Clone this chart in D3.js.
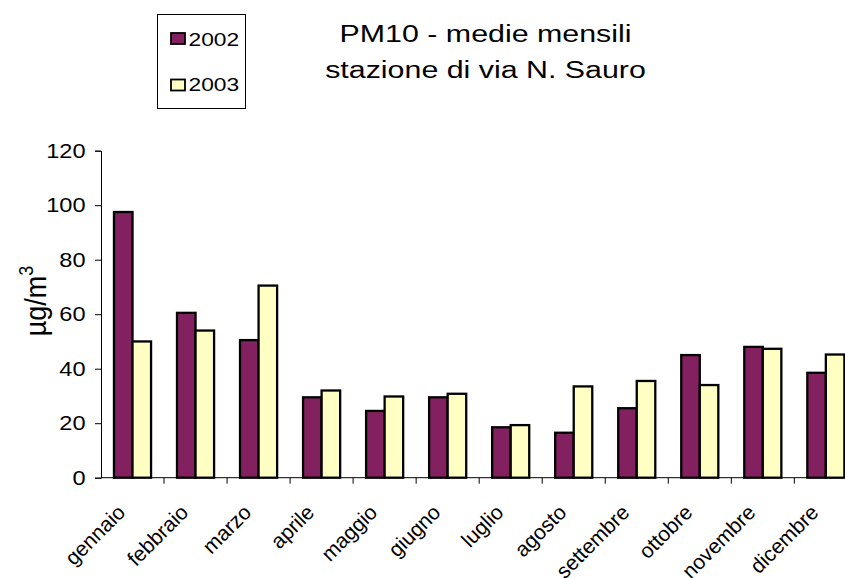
<!DOCTYPE html>
<html>
<head>
<meta charset="utf-8">
<script src="https://cdn.jsdelivr.net/npm/d3@7"></script>
<style>
  html, body { margin: 0; padding: 0; background: #fff; }
  svg { display: block; font-family: "Liberation Sans", Arial, sans-serif; }
</style>
</head>
<body>
<svg id="chart" width="845" height="578"></svg>
<script>
const months = ["gennaio","febbraio","marzo","aprile","maggio","giugno","luglio","agosto","settembre","ottobre","novembre","dicembre"];
const years = ["2002","2003"];
const values2002 = [97.5, 60.5, 50.5, 29.5, 24.5, 29.5, 18.5, 16.5, 25.5, 45, 48, 38.5];
const values2003 = [50, 54, 70.5, 32, 29.8, 30.8, 19.3, 33.5, 35.5, 34, 47.3, 45.2];
const yTicks = [0, 20, 40, 60, 80, 100, 120];
const titleLines = ["PM10 - medie mensili", "stazione di via N. Sauro"];
const colors = { "2002": "#822060", "2003": "#FFFFC4" };

const svg = d3.select("#chart");
const x0 = 101, y0 = 477.7, yTop = 150.7, step = 63.03;

const x = d3.scaleBand().domain(months).range([x0, x0 + step * months.length]).padding(0);
const xi = d3.scaleBand().domain(years).range([0, x.bandwidth()]).paddingInner(0).paddingOuter(0.70);
const y = d3.scaleLinear().domain([0, 120]).range([y0, yTop]);

const series = years.map((yr, k) => ({ year: yr, vals: k === 0 ? values2002 : values2003 }));

// bars
const g = svg.append("g");
series.forEach(s => {
  g.selectAll(null).data(months).enter().append("rect")
    .attr("x", m => x(m) + xi(s.year))
    .attr("width", xi.bandwidth())
    .attr("y", (m, i) => y(s.vals[i]))
    .attr("height", (m, i) => y0 - y(s.vals[i]))
    .attr("fill", colors[s.year])
    .attr("stroke", "#000")
    .attr("stroke-width", 2.3);
});

// y axis
const yAxis = d3.axisLeft(y).tickValues(yTicks).tickSize(6).tickPadding(10);
const ya = svg.append("g").attr("transform", `translate(${x0},0)`).call(yAxis);
ya.select(".domain").attr("stroke", "#000").attr("stroke-width", 1);
ya.selectAll(".tick line").attr("stroke", "#000");
ya.selectAll(".tick text")
  .attr("font-size", 20).attr("fill", "#000")
  .attr("font-family", "Liberation Sans, Arial, sans-serif")
  .attr("x", -15.5 / 1.18)
  .attr("transform", "scale(1.18,1)");

// x axis line and ticks at band edges
svg.append("line").attr("x1", x0).attr("x2", x0 + step * months.length)
  .attr("y1", y0).attr("y2", y0).attr("stroke", "#000").attr("stroke-width", 1);
const edges = months.map(m => x(m)).concat([x(months[months.length - 1]) + x.bandwidth()]);
svg.selectAll(null).data(edges.slice(1)).enter().append("line")
  .attr("x1", d => d).attr("x2", d => d)
  .attr("y1", y0).attr("y2", y0 + 6).attr("stroke", "#000");

// x labels
svg.selectAll(null).data(months).enter().append("text")
  .attr("transform", m => `translate(${x(m) + x.bandwidth() / 2 - 6},${y0 + 36}) rotate(-45)`)
  .attr("text-anchor", "end")
  .attr("font-size", 21)
  .attr("fill", "#000")
  .text(m => m);

// y label
const yl = svg.append("text")
  .attr("transform", "translate(46,301) scale(1.1,1) rotate(-90)")
  .attr("text-anchor", "middle")
  .attr("font-size", 27)
  .attr("fill", "#000");
yl.append("tspan").text("µg/m");
yl.append("tspan").attr("dy", -12).attr("font-size", 18).text("3");

// title
svg.selectAll(null).data(titleLines).enter().append("text")
  .attr("transform", (d, i) => `translate(485.5,${41.8 + i * 36.1}) scale(1.24,1)`)
  .attr("text-anchor", "middle")
  .attr("font-size", 24.5)
  .attr("fill", "#000")
  .text(d => d);

// legend
const lg = svg.append("g");
lg.append("rect").attr("x", 157.5).attr("y", 14.5).attr("width", 88).attr("height", 94)
  .attr("fill", "#fff").attr("stroke", "#000").attr("stroke-width", 1);
years.forEach((yr, i) => {
  lg.append("rect").attr("x", 171).attr("y", 33 + i * 46.5).attr("width", 14).attr("height", 11)
    .attr("fill", colors[yr]).attr("stroke", "#000").attr("stroke-width", 1.8);
  lg.append("text")
    .attr("transform", `translate(188.5,${46.1 + i * 45.3}) scale(1.2,1)`)
    .attr("font-size", 19).attr("fill", "#000").text(yr);
});
</script>
</body>
</html>
